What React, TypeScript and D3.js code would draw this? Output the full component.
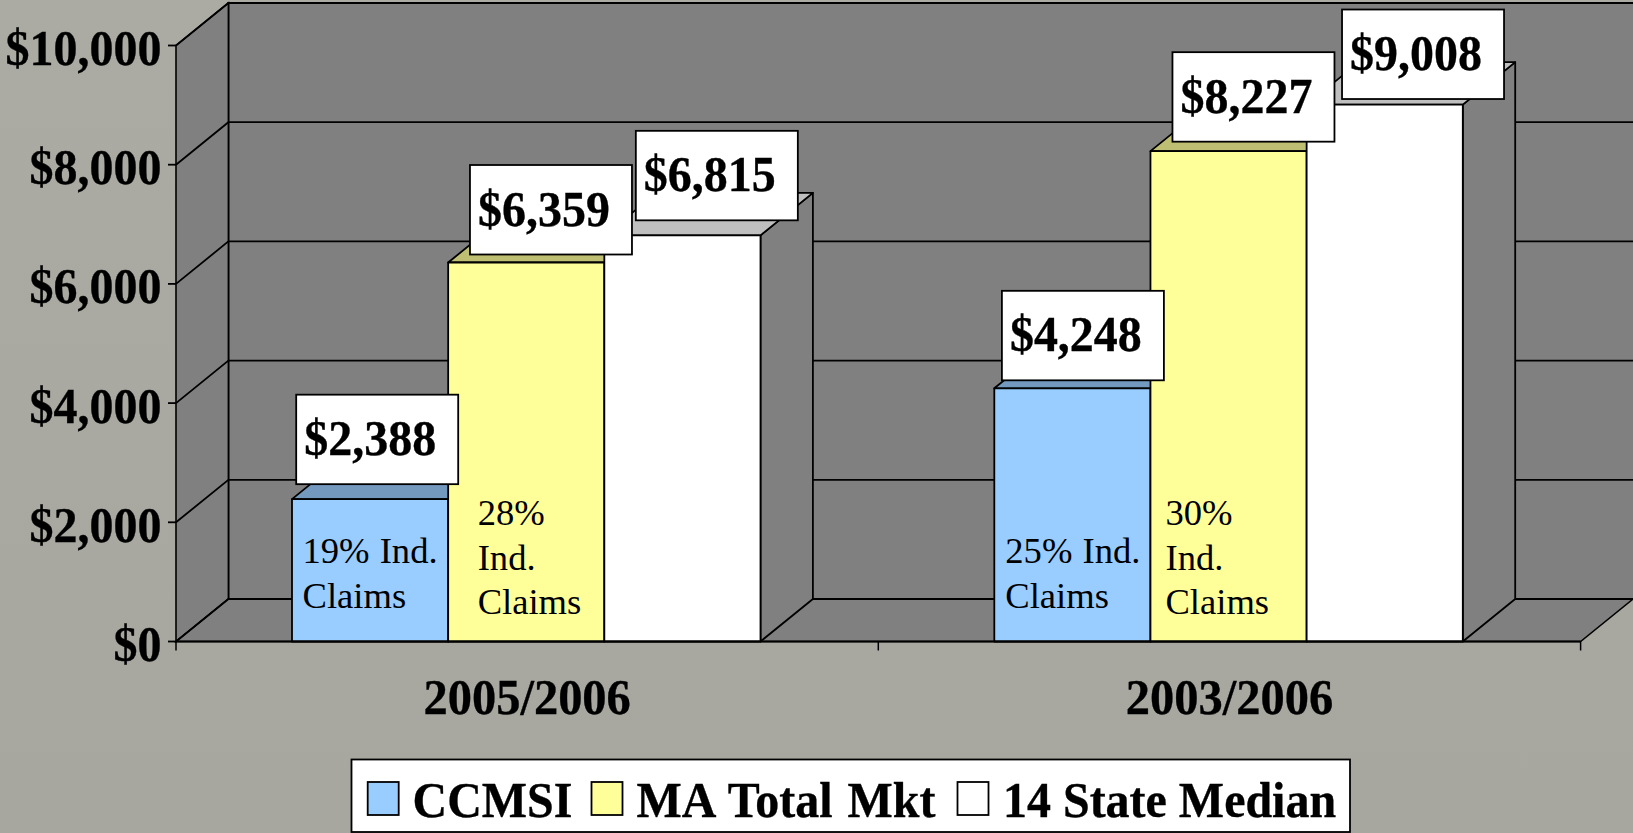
import React from "react";
import * as d3 from "d3";

const categories = ["2005/2006", "2003/2006"];
const seriesNames = ["CCMSI", "MA Total Mkt", "14 State Median"];
const ccmsiValues = [2388, 4248];
const maValues = [6359, 8227];
const medianValues = [6815, 9008];
const seriesValues = [ccmsiValues, maValues, medianValues];
const yTicks = [0, 2000, 4000, 6000, 8000, 10000];
const noteLines = [
  [["19% Ind.", "Claims"], ["28%", "Ind.", "Claims"]],
  [["25% Ind.", "Claims"], ["30%", "Ind.", "Claims"]],
];

const W = 1633, H = 833;
const DX = 52.4, DY = 42.5;
const fronts = ["#99CCFF", "#FFFF99", "#FFFFFF"];
const tops = ["#7399BF", "#BFBF73", "#BFBFBF"];
const FONT = "'Liberation Serif', 'Times New Roman', serif";
// label box offsets relative to bar's top-left corner
const boxDX = [[4.2, 21.8, 31.5], [7.6, 22, 35.4]];
const boxDY = [[-15, -8, -15], [-8, -9.5, -5.6]];
const BOX_W = 162, BOX_H = 89.5;
const noteDX = [[10.5, 29.5], [11, 15]];
const noteBase = [[563, 525], [563, 525]];
const legendSwatchX = [367.7, 591.5, 957.5];
const legendTextX = [412.5, 636.5, 1003];
const legendWordSpace = [0, 3, 0];

const fmt = (v: number) => "$" + d3.format(",")(v);

function Bold({ x, y, anchor, sx = 0.95, ws = 0, children }: { x: number; y: number; anchor?: string; sx?: number; ws?: number; children: React.ReactNode }) {
  return (
    <text
      transform={`translate(${x},${y}) scale(${sx},1)`}
      textAnchor={anchor as any}
      fontFamily={FONT}
      fontWeight="bold"
      fontSize={50.5}
      fill="#000"
      stroke="#000"
      strokeWidth={0.35}
      wordSpacing={ws}
    >
      {children}
    </text>
  );
}

export default function App() {
  const y = d3.scaleLinear().domain([0, 10000]).range([641.5, 45.5]);
  const x0 = d3.scaleBand<string>().domain(categories).range([176, 1580.6]);
  const bw0 = x0.bandwidth();
  const x1 = d3.scaleBand<number>().domain([0, 1, 2]).range([116, 584.5]);
  const bw = x1.bandwidth();
  const line = d3.line();
  const poly = (p: [number, number][]) => line(p) + "Z";
  const base = y(0), top = y(10000);
  const right = x0.range()[1];

  return (
    <svg width={W} height={H} viewBox={`0 0 ${W} ${H}`} style={{ position: "fixed", left: 0, top: 0, display: "block" }}>
      <defs>
        <linearGradient id="bg" x1="0" y1="0" x2="0" y2="1">
          <stop offset="0" stopColor="#ABABA3" />
          <stop offset="1" stopColor="#A7A7A0" />
        </linearGradient>
      </defs>
      <rect width={W} height={H} fill="url(#bg)" />
      {/* walls */}
      <path d={poly([[176 + DX, top - DY], [W + 2, top - DY], [W + 2, base - DY], [176 + DX, base - DY]])} fill="#808080" stroke="#000" strokeWidth={2} />
      <path d={poly([[176, top], [176 + DX, top - DY], [176 + DX, base - DY], [176, base]])} fill="#808080" stroke="#000" strokeWidth={1.6} />
      <path d={poly([[176, base], [176 + DX, base - DY], [right + DX, base - DY], [right, base]])} fill="#808080" stroke="#000" strokeWidth={1.6} />
      {yTicks.map((t) => (
        <g key={t}>
          <path d={line([[176, y(t)], [176 + DX, y(t) - DY], [W, y(t) - DY]])!} fill="none" stroke="#000" strokeWidth={1.8} />
          <line x1={168} x2={176} y1={y(t)} y2={y(t)} stroke="#000" strokeWidth={1.8} />
          <Bold x={161.5} y={y(t) + 19.5} anchor="end">{fmt(t)}</Bold>
        </g>
      ))}
      {/* bars */}
      {categories.map((c, ci) =>
        seriesValues.map((vals, si) => {
          const bx = x0(c)! + x1(si)!;
          const by = y(vals[ci]);
          return (
            <g key={c + si} stroke="#000" strokeWidth={1.8} strokeLinejoin="round">
              <path d={poly([[bx + bw, by], [bx + bw + DX, by - DY], [bx + bw + DX, base - DY], [bx + bw, base]])} fill="#808080" />
              <path d={poly([[bx, by], [bx + DX, by - DY], [bx + bw + DX, by - DY], [bx + bw, by]])} fill={tops[si]} />
              <rect x={bx} y={by} width={bw} height={base - by} fill={fronts[si]} />
            </g>
          );
        })
      )}
      {/* axis */}
      <line x1={176} x2={right} y1={base} y2={base} stroke="#000" strokeWidth={2} />
      {[x0.range()[0], x0(categories[1])!, right].map((tx, i) => (
        <line key={i} x1={tx} x2={tx} y1={base} y2={base + 9} stroke="#000" strokeWidth={1.5} />
      ))}
      {categories.map((c) => (
        <Bold key={c} x={x0(c)! + bw0 / 2} y={713.5} anchor="middle" sx={0.96}>{c}</Bold>
      ))}
      {/* notes inside the bars */}
      {categories.map((c, ci) =>
        noteLines[ci].map((lines, si) =>
          lines.map((ln, li) => (
            <text key={c + si + li} x={x0(c)! + x1(si)! + noteDX[ci][si]} y={noteBase[ci][si] + li * 44.5} fontFamily={FONT} fontSize={36.6} wordSpacing={1} fill="#000">{ln}</text>
          ))
        )
      )}
      {/* value labels */}
      {categories.map((c, ci) =>
        seriesValues.map((vals, si) => {
          const bx = x0(c)! + x1(si)! + boxDX[ci][si];
          const by = y(vals[ci]) + boxDY[ci][si] - BOX_H;
          return (
            <g key={c + si}>
              <rect x={bx} y={by} width={BOX_W} height={BOX_H} fill="#fff" stroke="#000" strokeWidth={1.8} />
              <Bold x={bx + 8} y={by + 60.5}>{fmt(vals[ci])}</Bold>
            </g>
          );
        })
      )}
      {/* legend */}
      <rect x={351.5} y={759.5} width={998.5} height={72.5} fill="#fff" stroke="#000" strokeWidth={1.8} />
      {seriesNames.map((s, i) => (
        <g key={s}>
          <rect x={legendSwatchX[i]} y={782} width={31} height={33} fill={fronts[i]} stroke="#000" strokeWidth={1.8} />
          <Bold x={legendTextX[i]} y={816.5} ws={legendWordSpace[i]}>{s}</Bold>
        </g>
      ))}
    </svg>
  );
}
